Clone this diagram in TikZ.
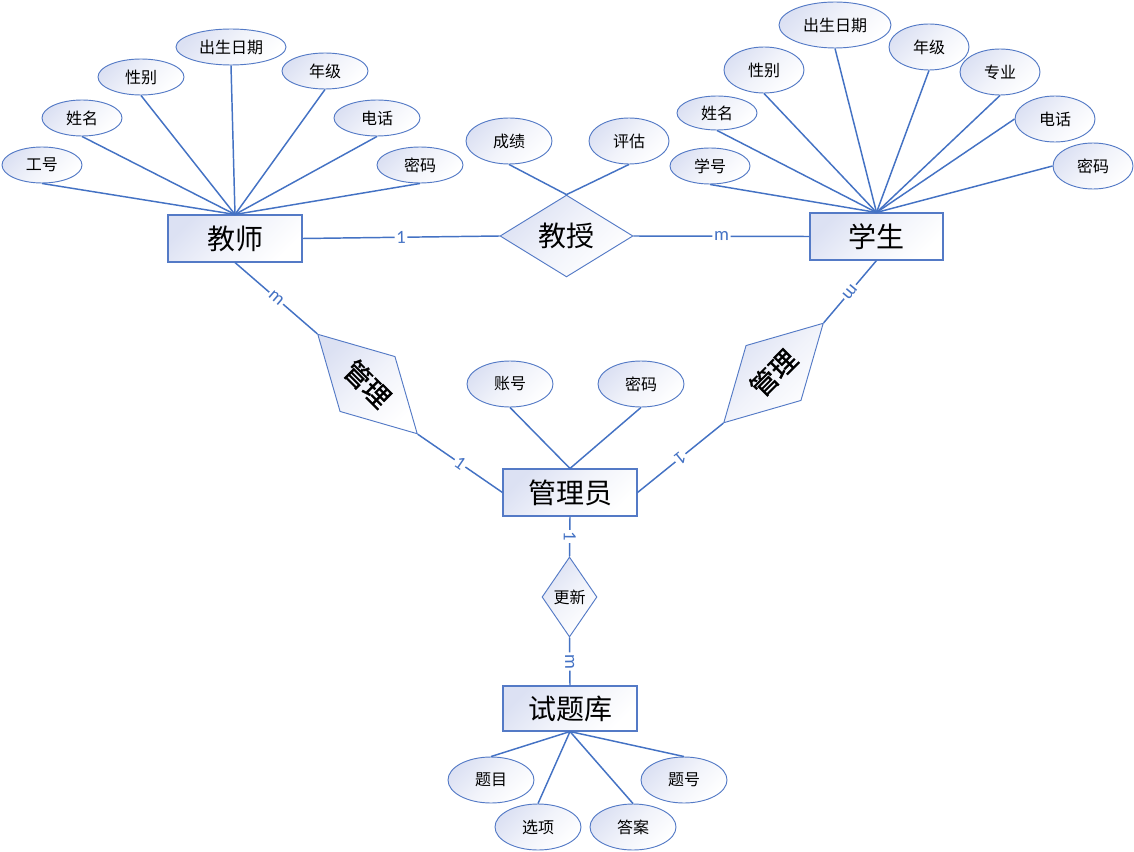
\documentclass[tikz,border=0pt]{standalone}
\usepackage{fontspec}
\setmainfont{Noto Sans CJK SC}
\newfontfamily\cardfont{Carlito}
\newfontfamily\semibold[FakeBold=1.3]{Noto Sans CJK SC}
\usetikzlibrary{shapes.geometric}
\definecolor{lineblue}{RGB}{68,114,196}
\definecolor{edgeblue}{RGB}{84,122,198}
\definecolor{tint}{RGB}{220,225,243}
\tikzset{
  sz/.style 2 args={minimum width=#1*0.75pt, minimum height=#2*0.75pt},
  shadefill/.style={top color=tint, bottom color=white, middle color=white!60!tint, shading angle=45},
  ent/.style={draw=edgeblue, line width=0.8pt, rectangle, shadefill, inner sep=0pt,
              font=\fontsize{21}{21}\selectfont},
  attr/.style={draw=edgeblue, line width=0.7pt, ellipse, shadefill, inner sep=0pt,
              font=\fontsize{12}{12}\selectfont},
  rel/.style={draw=edgeblue, line width=0.7pt, diamond, shadefill, inner sep=0pt},
  conn/.style={draw=lineblue, line width=1.1pt},
  card/.style={fill=white, text=lineblue, inner sep=1.2pt, sloped, allow upside down,
              font=\cardfont\fontsize{14}{14}\selectfont},
}
\begin{document}
\begin{tikzpicture}[x=0.75pt,y=-0.75pt]
\fill[white] (0,0) rectangle (1134,852);
\useasboundingbox (0,0) rectangle (1134,852);

% entities
\node[ent, sz={134}{47}] (T) at (235,238.5) {教师};
\node[ent, sz={133}{47}] (S) at (876.5,236.5) {学生};
\node[ent, sz={134}{47}] (A) at (570,492.5) {管理员};
\node[ent, sz={134}{45}] (Q) at (570,708.5) {试题库};

% relationships
\node[rel, sz={133}{74}, font=\fontsize{21}{21}\selectfont] (J) at (566.5,236) {教授};
\node[rel, sz={141}{74}, rotate=-45, font=\semibold\fontsize{20}{20}\selectfont] (LM) at (367.5,384) {管理};
\node[rel, sz={141}{74}, rotate=45, font=\semibold\fontsize{20}{20}\selectfont] (RM) at (773.5,373) {管理};
\node[rel, sz={55}{80}, font=\fontsize{12}{12}\selectfont] (U) at (569.5,597) {更新};

% teacher attributes
\node[attr, sz={80}{36}] (ta1) at (42,165) {工号};
\node[attr, sz={80}{36}] (ta2) at (82,118) {姓名};
\node[attr, sz={86}{36}] (ta3) at (141,77) {性别};
\node[attr, sz={110}{36}] (ta4) at (231,47) {出生日期};
\node[attr, sz={86}{36}] (ta5) at (325,71) {年级};
\node[attr, sz={86}{36}] (ta6) at (377,118) {电话};
\node[attr, sz={86}{36}] (ta7) at (420,165) {密码};

% student attributes
\node[attr, sz={80}{36}] (sa1) at (710,166) {学号};
\node[attr, sz={80}{34}] (sa2) at (717,113) {姓名};
\node[attr, sz={80}{46}] (sa3) at (764,70) {性别};
\node[attr, sz={112}{46}] (sa4) at (835,25) {出生日期};
\node[attr, sz={80}{46}] (sa5) at (929,47) {年级};
\node[attr, sz={80}{46}] (sa6) at (1000,72) {专业};
\node[attr, sz={80}{46}] (sa7) at (1055,119) {电话};
\node[attr, sz={80}{46}] (sa8) at (1093,166) {密码};

% teach attributes
\node[attr, sz={86}{46}] (ja1) at (509,141) {成绩};
\node[attr, sz={80}{46}] (ja2) at (629,141) {评估};

% admin attributes
\node[attr, sz={86}{46}] (aa1) at (510,384) {账号};
\node[attr, sz={86}{46}] (aa2) at (641,384) {密码};

% question bank attributes
\node[attr, sz={86}{46}] (qa1) at (491,780) {题目};
\node[attr, sz={86}{46}] (qa2) at (538,827) {选项};
\node[attr, sz={86}{46}] (qa3) at (633,827) {答案};
\node[attr, sz={86}{46}] (qa4) at (684,780) {题号};

% attribute connectors
\foreach \n in {ta1,ta2,ta3,ta4,ta5,ta6,ta7}
  \draw[conn] (\n.south) -- (T.north);
\foreach \n in {sa1,sa2,sa3,sa4,sa5,sa6}
  \draw[conn] (\n.south) -- (S.north);
\foreach \n in {sa7,sa8}
  \draw[conn] (\n.west) -- (S.north);
\foreach \n in {ja1,ja2}
  \draw[conn] (\n.south) -- (J.north);
\foreach \n in {aa1,aa2}
  \draw[conn] (\n.south) -- (A.north);
\foreach \n in {qa1,qa2,qa3,qa4}
  \draw[conn] (Q.south) -- (\n.north);

% relationship connectors
\draw[conn] (T.east) -- node[card]{1} (J.west);
\draw[conn] (J.east) -- node[card]{m} (S.west);
\draw[conn] (T.south) -- node[card]{m} (LM.west);
\draw[conn] (LM.east) -- node[card]{1} (A.west);
\draw[conn] (S.south) -- node[card]{m} (RM.east);
\draw[conn] (RM.west) -- node[card]{1} (A.east);
\draw[conn] (A.south) -- node[card]{1} (U.north);
\draw[conn] (U.south) -- node[card]{m} (Q.north);
\end{tikzpicture}
\end{document}
